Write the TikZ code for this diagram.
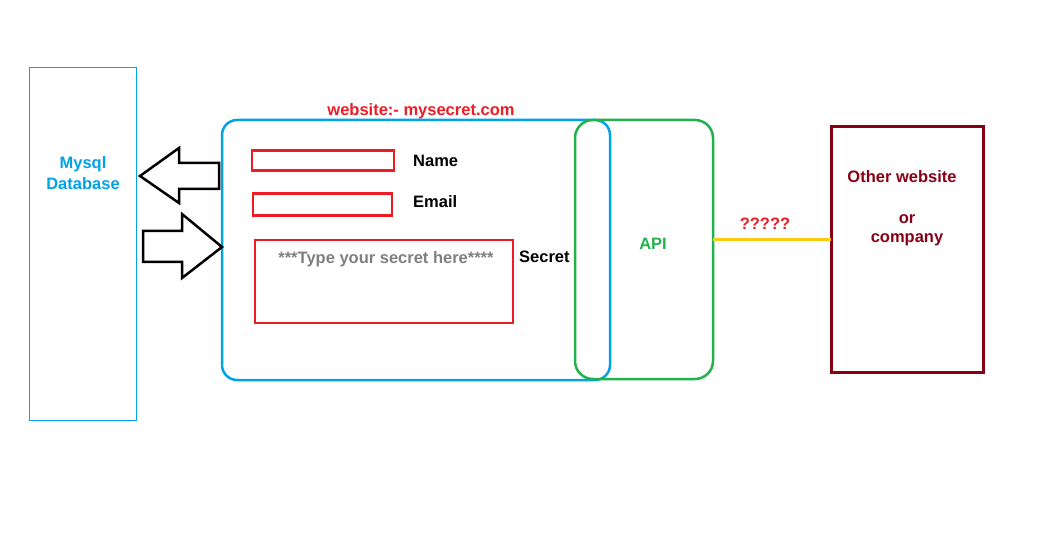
\documentclass[tikz,border=0pt]{standalone}
\usepackage{fontspec}
\setmainfont{Liberation Sans}
\usepackage{tikz}
\definecolor{dbblue}{HTML}{00A2E8}
\definecolor{fieldred}{HTML}{ED1C24}
\definecolor{apigreen}{HTML}{22B14C}
\definecolor{othermaroon}{HTML}{880015}
\definecolor{wireyellow}{HTML}{FFC90E}
\definecolor{hintgray}{HTML}{7F7F7F}

\begin{document}
\begin{tikzpicture}[x=1pt,y=-1pt,
    font=\fontsize{16.5}{21}\selectfont\bfseries,
    box/.style={draw,inner sep=0pt,outer sep=0pt},
    field/.style={box,draw=fieldred,line width=2.5pt},
    lbl/.style={inner sep=0pt,anchor=west},
    blockarrow/.style={draw=black,line width=2.5pt,fill=white}]
      \useasboundingbox[fill=white] (0,0) rectangle (1043,534);
      % database
      \node[box,draw=dbblue,line width=1pt,minimum width=107,minimum height=352] (db) at (82.5,244) {};
      \node[inner sep=0pt,text=dbblue,align=center] (dblabel) at (83,173) {Mysql\\Database};
      % website
      \node[box,draw=dbblue,line width=2.5pt,rounded corners=15pt,minimum width=388,minimum height=260] (site) at (416,250) {};
      \node[box,draw=apigreen,line width=2.5pt,rounded corners=18pt,minimum width=138,minimum height=259] (api) at (644,249.5) {};
      \node[inner sep=0pt,text=fieldred] (sitelabel) at (421,111) {website:- mysecret.com};
      \node[inner sep=0pt,text=apigreen] (apilabel) at (653,244) {API};
      % form fields
      \node[field,minimum width=142,minimum height=20] (namebox) at (323,160.5) {};
      \node[field,minimum width=139,minimum height=22] (emailbox) at (322.5,204.5) {};
      \node[field,minimum width=258,minimum height=83] (secretbox) at (384,281.5) {};
      \node[lbl] (namelabel) at (413,161) {Name};
      \node[lbl] (emaillabel) at (413,202) {Email};
      \node[lbl] (secretlabel) at (519,257) {Secret};
      \node[inner sep=0pt,text=hintgray] (hint) at (386,259) {***Type your secret here****};
      % arrows between db and site
      \draw[blockarrow] ([xshift=-3pt]site.west |- 0,163) -- (179,163) -- (179,148) -- (140,176) -- (179,203) -- (179,189) -- ([xshift=-3pt]site.west |- 0,189) -- cycle;
      \draw[blockarrow] (143,231) -- (182,231) -- (182,214) -- (site.west |- 0,247) -- (182,278) -- (182,262) -- (143,262) -- cycle;
      % other side
      \node[box,draw=othermaroon,line width=3pt,minimum width=152,minimum height=245] (other) at (907,249.5) {};
      \node[inner sep=0pt,text=othermaroon] (otherlabel) at (902,177) {Other website};
      \node[inner sep=0pt,text=othermaroon] (orlabel) at (907,219) {or};
      \node[inner sep=0pt,text=othermaroon] (companylabel) at (907,240) {company};
      \draw[wireyellow,line width=3pt] ([yshift=10pt]api.east) -- ([yshift=10pt]api.east -| other.west);
      \node[inner sep=0pt,text=fieldred] (wirelabel) at (765,224) {?????};
    \end{tikzpicture}
\end{document}
